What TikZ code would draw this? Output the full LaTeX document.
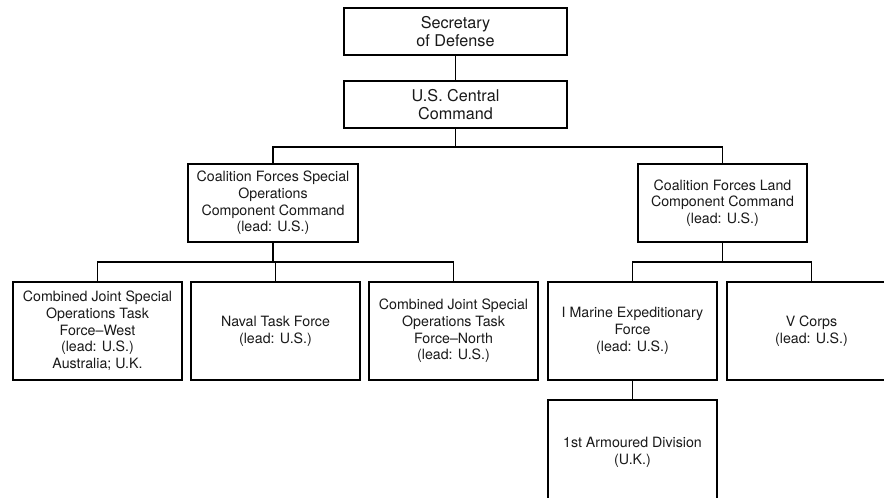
\documentclass[tikz,border=0pt]{standalone}
\usepackage{fontspec}
\setmainfont{TeX Gyre Heros}
\begin{document}
\begin{tikzpicture}[x=1pt,y=-1pt,
  box/.style={draw=black,line width=1.8pt,align=center,inner sep=0pt,
    minimum width=169pt,font=\fontsize{14.2}{16.7}\selectfont,text=black!90},
  topbox/.style={box,minimum width=223pt,minimum height=47pt,font=\fontsize{16.2}{18}\selectfont},
  link/.style={draw=black,line width=1.8pt}]
\clip (0,0) rectangle (884,498);
\fill[white] (0,0) rectangle (884,498);
% boxes
\node[topbox] (sec) at (455.5,31.5) {Secretary\\of Defense};
\node[topbox] (cent) at (455.5,104.5) {U.S. Central\\Command};
\node[box,minimum width=170pt,minimum height=78pt] (cfsocc) at (273,203) {Coalition Forces Special\\Operations\\Component Command\\(lead: U.S.)};
\node[box,minimum height=78pt] (cflcc) at (722.5,203) {Coalition Forces Land\\Component Command\\(lead: U.S.)};
\node[box,minimum height=98pt] (cjw) at (97.5,331) {Combined Joint Special\\Operations Task\\Force--West\\(lead: U.S.)\\Australia; U.K.};
\node[box,minimum height=98pt] (naval) at (275.5,331) {Naval Task Force\\(lead: U.S.)};
\node[box,minimum height=98pt] (cjn) at (453.5,331) {Combined Joint Special\\Operations Task\\Force--North\\(lead: U.S.)};
\node[box,minimum height=98pt] (imef) at (632.5,331) {I Marine Expeditionary\\Force\\(lead: U.S.)};
\node[box,minimum height=98pt,minimum width=169pt] (vc) at (811.5,331) {V Corps\\(lead: U.S.)};
\node[box,minimum height=104pt] (arm) at (632.5,452) {1st Armoured Division\\(U.K.)};
% bus coordinates
\coordinate (bus1) at (455.5,147);
\coordinate (bus2) at (273,262);
\coordinate (bus3) at (722.5,262);
% connectors
\draw[link] (sec) -- (cent);
\draw[link] (cent) -- (bus1);
\draw[link] (cfsocc.north) |- (bus1) -| (cflcc.north);
\draw[link] (cfsocc) -- (bus2);
\draw[link] (cjw.north) |- (bus2) -| (cjn.north);
\draw[link] (naval.north) -- (naval.north |- bus2);
\draw[link] (cflcc) -- (bus3);
\draw[link] (imef.north) |- (bus3) -| (vc.north);
\draw[link] (imef) -- (arm);
\end{tikzpicture}
\end{document}
